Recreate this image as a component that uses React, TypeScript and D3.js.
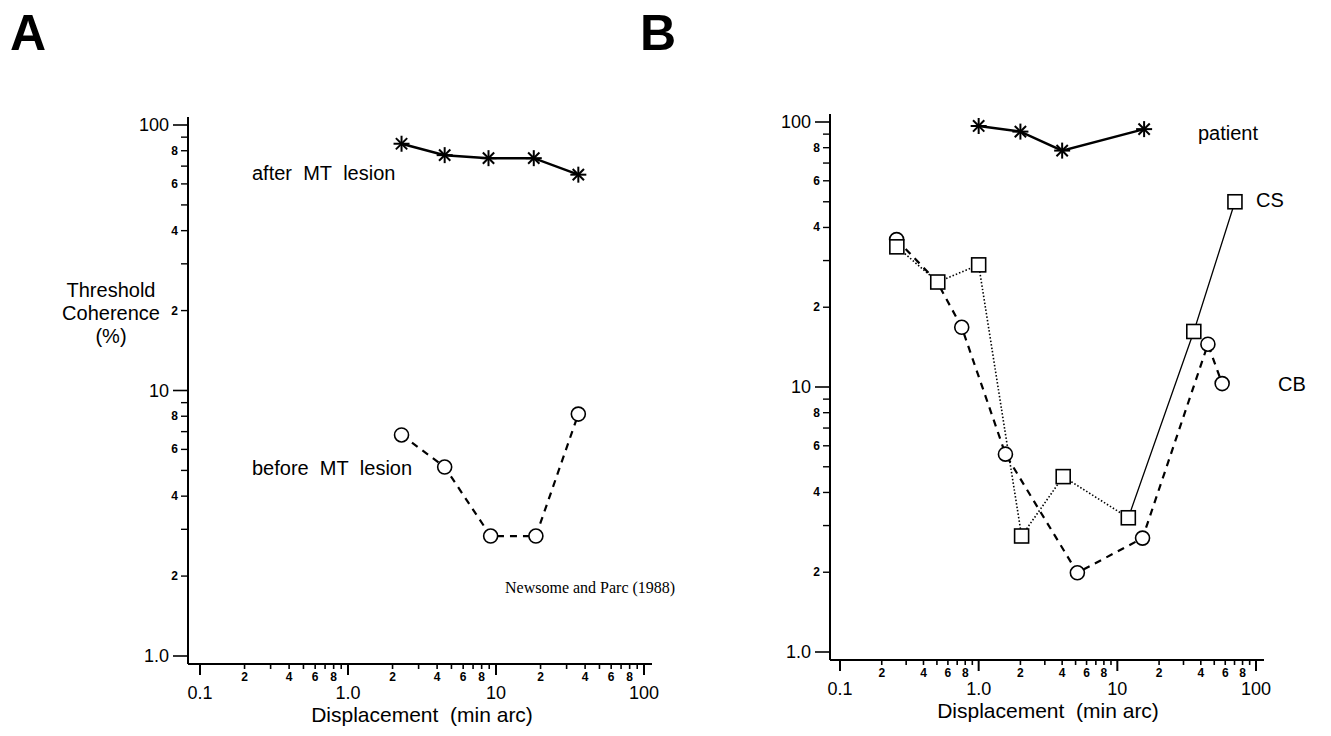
import React from "react";
import * as d3 from "d3";

// Panel A (Newsome and Pare 1988)
const afterX = [2.3, 4.5, 8.9, 18, 36];
const afterY = [85, 77, 75, 75, 65];
const beforeX = [2.3, 4.5, 9.2, 18.6, 36];
const beforeY = [6.8, 5.15, 2.83, 2.83, 8.15];

// Panel B
const patientX = [1.0, 2.0, 4.0, 15.6];
const patientY = [96.6, 92, 78, 94];
const csX = [0.257, 0.507, 1.0, 2.04, 4.07, 12, 35.6, 70.5];
const csY = [33.8, 24.9, 28.9, 2.74, 4.59, 3.21, 16.2, 50];
const cbX = [0.256, 0.5, 0.755, 1.56, 5.15, 15.2, 45, 57];
const cbY = [36, 25, 16.8, 5.58, 1.99, 2.69, 14.5, 10.3];

const majorLabels = ["0.1", "1.0", "10", "100"];
const yMajorLabels = ["1.0", "10", "100"];
const minorLabeled = [2, 4, 6, 8];

const font = "Helvetica, Arial, 'Liberation Sans', sans-serif";

type Panel = { x0: number; x1: number; yTop: number; yBot: number; axisX: number; axisY: number };

const Axes: React.FC<{ p: Panel }> = ({ p }) => {
  const x = d3.scaleLog().domain([0.1, 100]).range([p.x0, p.x1]);
  const y = d3.scaleLog().domain([1, 100]).range([p.yBot, p.yTop]);
  const decadesX = [0.1, 1, 10];
  const decadesY = [1, 10];
  const els: React.ReactNode[] = [];
  decadesX.forEach((d, di) => {
    for (let m = 2; m <= 9; m++) {
      const v = d * m;
      els.push(<line key={`xm${di}${m}`} x1={x(v)} x2={x(v)} y1={p.axisY} y2={p.axisY + 5} stroke="#000" strokeWidth={1.6} />);
      if (minorLabeled.includes(m))
        els.push(<text key={`xl${di}${m}`} x={x(v)} y={p.axisY + 17} fontSize={12} fontWeight="bold" textAnchor="middle" fontFamily={font}>{m}</text>);
    }
  });
  [0.1, 1, 10, 100].forEach((v, i) => {
    els.push(<line key={`xM${i}`} x1={x(v)} x2={x(v)} y1={p.axisY} y2={p.axisY + 11} stroke="#000" strokeWidth={2} />);
    els.push(<text key={`xL${i}`} x={x(v)} y={p.axisY + 35} fontSize={18} textAnchor="middle" fontFamily={font}>{majorLabels[i]}</text>);
  });
  decadesY.forEach((d, di) => {
    for (let m = 2; m <= 9; m++) {
      const v = d * m;
      els.push(<line key={`ym${di}${m}`} x1={p.axisX - 7} x2={p.axisX} y1={y(v)} y2={y(v)} stroke="#000" strokeWidth={1.4} />);
      if (minorLabeled.includes(m))
        els.push(<text key={`yl${di}${m}`} x={p.axisX - 10} y={y(v) + 4} fontSize={12} fontWeight="bold" textAnchor="end" fontFamily={font}>{m}</text>);
    }
  });
  [1, 10, 100].forEach((v, i) => {
    els.push(<line key={`yM${i}`} x1={p.axisX - 15} x2={p.axisX} y1={y(v)} y2={y(v)} stroke="#000" strokeWidth={1.6} />);
    els.push(<text key={`yL${i}`} x={p.axisX - 19} y={y(v) + 6} fontSize={18} textAnchor="end" fontFamily={font}>{yMajorLabels[i]}</text>);
  });
  return (
    <g>
      <line x1={p.axisX} x2={p.axisX} y1={p.yTop - 8} y2={p.axisY} stroke="#000" strokeWidth={2} />
      <line x1={p.axisX} x2={p.x1 + 8} y1={p.axisY} y2={p.axisY} stroke="#000" strokeWidth={2} />
      {els}
      <text x={(p.x0 + p.x1) / 2} y={p.axisY + 58} fontSize={21} textAnchor="middle" fontFamily={font}>
        Displacement{"\u00a0\u00a0"}(min arc)
      </text>
    </g>
  );
};

const Star: React.FC<{ cx: number; cy: number }> = ({ cx, cy }) => {
  const r = 8;
  return (
    <g stroke="#000" strokeWidth={2}>
      {[0, 45, 90, 135].map(a => {
        const t = (a * Math.PI) / 180;
        return <line key={a} x1={cx - r * Math.cos(t)} y1={cy - r * Math.sin(t)} x2={cx + r * Math.cos(t)} y2={cy + r * Math.sin(t)} />;
      })}
    </g>
  );
};

const mkLine = (xs: number[], ys: number[], x: d3.ScaleLogarithmic<number, number>, y: d3.ScaleLogarithmic<number, number>) =>
  d3.line<number>().x((_, i) => x(xs[i])).y((_, i) => y(ys[i]))(xs) || "";

const App: React.FC = () => {
  const pA: Panel = { x0: 200, x1: 644, yTop: 125, yBot: 656, axisX: 188, axisY: 664 };
  const pB: Panel = { x0: 840, x1: 1256, yTop: 122, yBot: 652, axisX: 830, axisY: 660 };
  const xA = d3.scaleLog().domain([0.1, 100]).range([pA.x0, pA.x1]);
  const yA = d3.scaleLog().domain([1, 100]).range([pA.yBot, pA.yTop]);
  const xB = d3.scaleLog().domain([0.1, 100]).range([pB.x0, pB.x1]);
  const yB = d3.scaleLog().domain([1, 100]).range([pB.yBot, pB.yTop]);

  return (
    <svg width={1331} height={736} style={{ position: "absolute", left: 0, top: 0, background: "#fff" }}>
      <text x={10} y={50} fontSize={50} fontWeight="bold" fontFamily={font}>A</text>
      <text x={640} y={50} fontSize={50} fontWeight="bold" fontFamily={font}>B</text>

      <Axes p={pA} />
      <text textAnchor="middle" fontSize={20} fontFamily={font}>
        <tspan x={111} y={297}>Threshold</tspan>
        <tspan x={111} y={320}>Coherence</tspan>
        <tspan x={111} y={343}>(%)</tspan>
      </text>
      <path d={mkLine(afterX, afterY, xA, yA)} fill="none" stroke="#000" strokeWidth={2.5} />
      {afterX.map((v, i) => <Star key={i} cx={xA(v)} cy={yA(afterY[i])} />)}
      <path d={mkLine(beforeX, beforeY, xA, yA)} fill="none" stroke="#000" strokeWidth={2.2} strokeDasharray="7,6" />
      {beforeX.map((v, i) => <circle key={i} cx={xA(v)} cy={yA(beforeY[i])} r={7} fill="#fff" stroke="#000" strokeWidth={1.6} />)}
      <text x={252} y={180} fontSize={20} fontFamily={font}>after{"\u00a0\u00a0"}MT{"\u00a0\u00a0"}lesion</text>
      <text x={252} y={475} fontSize={20} fontFamily={font}>before{"\u00a0\u00a0"}MT{"\u00a0\u00a0"}lesion</text>
      <text x={505} y={593} fontSize={16} fontFamily="'Liberation Serif', 'Times New Roman', serif">Newsome and Parc (1988)</text>

      <Axes p={pB} />
      <path d={mkLine(patientX, patientY, xB, yB)} fill="none" stroke="#000" strokeWidth={2.5} />
      {patientX.map((v, i) => <Star key={i} cx={xB(v)} cy={yB(patientY[i])} />)}
      <path d={mkLine(cbX, cbY, xB, yB)} fill="none" stroke="#000" strokeWidth={2.2} strokeDasharray="7,6" />
      <path d={mkLine(csX.slice(0, 6), csY.slice(0, 6), xB, yB)} fill="none" stroke="#000" strokeWidth={1.6} strokeDasharray="1.5,2" />
      <path d={mkLine(csX.slice(5), csY.slice(5), xB, yB)} fill="none" stroke="#000" strokeWidth={1.3} />
      {cbX.map((v, i) => (i === 1 ? null : <circle key={i} cx={xB(v)} cy={yB(cbY[i])} r={7} fill="#fff" stroke="#000" strokeWidth={1.6} />))}
      {csX.map((v, i) => <rect key={i} x={xB(v) - 7} y={yB(csY[i]) - 7} width={14} height={14} fill="#fff" stroke="#000" strokeWidth={1.6} />)}
      <text x={1198} y={140} fontSize={20} fontFamily={font}>patient</text>
      <text x={1256} y={207} fontSize={20} fontFamily={font}>CS</text>
      <text x={1278} y={391} fontSize={20} fontFamily={font}>CB</text>
    </svg>
  );
};

export default App;
